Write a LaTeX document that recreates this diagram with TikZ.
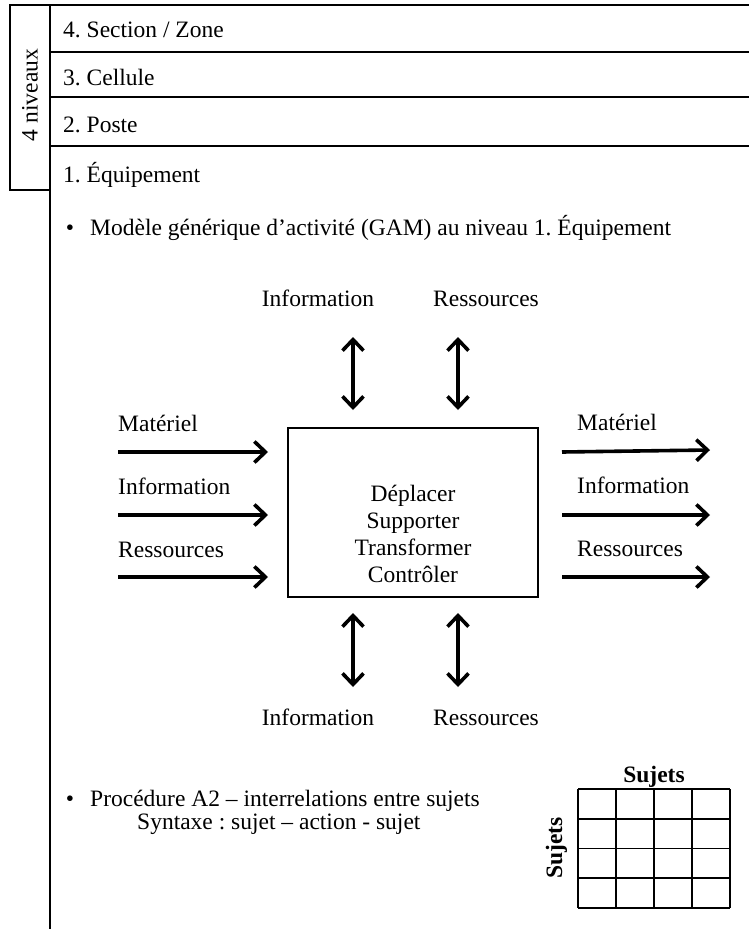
\documentclass[tikz,border=0pt]{standalone}
\usepackage{fontspec}
\setmainfont{Liberation Serif}
\usetikzlibrary{arrows.meta}
\frenchspacing
\begin{document}
\begin{tikzpicture}[x=1pt,y=-1pt,
  txt/.style={inner sep=0pt,font=\fontsize{23.5}{27}\selectfont},
  rule/.style={line width=2pt},
  barb/.tip={Straight Barb[length=11pt,width=21pt,line width=3.6pt]},
  flow/.style={line width=3.6pt,-barb},
  flowboth/.style={line width=3.6pt,barb-barb},
  cell/.style={line width=1.8pt}]
\useasboundingbox (0,0) rectangle (749,929);

% level frame on the left
\draw[rule] (10,5) rectangle (50,190);
\draw[rule] (10,5) -- (749,5);
\draw[line width=2.5pt] (50,5) -- (50,929);
\draw[rule] (50,52) -- (749,52);
\draw[rule] (50,97) -- (749,97);
\draw[rule] (50,146) -- (749,146);
\node[txt,rotate=90] (niv) at (30,95) {4 niveaux};

\node[txt,anchor=base west] (l4) at (63,37) {4. Section / Zone};
\node[txt,anchor=base west] (l3) at (63,85) {3. Cellule};
\node[txt,anchor=base west] (l2) at (63,132) {2. Poste};
\node[txt,anchor=base west] (l1) at (63,182) {1. Équipement};

% generic activity model
\node[txt,anchor=base] (b1) at (70,235) {•};
\node[txt,anchor=base west] (gam) at (90,235) {Modèle générique d’activité (GAM) au niveau 1. Équipement};

\node[draw,line width=1.6pt,minimum width=250pt,minimum height=169pt,inner sep=0pt] (box) at (413,512.5) {};
\node[txt,anchor=base] (v1) at (413,501) {Déplacer};
\node[txt,anchor=base] (v2) at (413,528) {Supporter};
\node[txt,anchor=base] (v3) at (413,555) {Transformer};
\node[txt,anchor=base] (v4) at (413,582) {Contrôler};

% top exchanges
\node[txt,anchor=base] (tinfo) at (318,306) {Information};
\node[txt,anchor=base] (tres) at (486,306) {Ressources};
\coordinate (ti1) at (353,337); \coordinate (ti2) at (353,410);
\coordinate (tr1) at (458,337); \coordinate (tr2) at (458,410);
\draw[flowboth] (ti1) -- (ti2);
\draw[flowboth] (tr1) -- (tr2);

% inputs
\node[txt,anchor=base west] (im) at (118,431) {Matériel};
\node[txt,anchor=base west] (ii) at (118,494) {Information};
\node[txt,anchor=base west] (ir) at (118,557) {Ressources};
\coordinate (im1) at (118,452); \coordinate (im2) at (268,452);
\coordinate (ii1) at (118,515); \coordinate (ii2) at (268,515);
\coordinate (ir1) at (118,577); \coordinate (ir2) at (268,577);
\draw[flow] (im1) -- (im2);
\draw[flow] (ii1) -- (ii2);
\draw[flow] (ir1) -- (ir2);

% outputs
\node[txt,anchor=base west] (om) at (577,430) {Matériel};
\node[txt,anchor=base west] (oi) at (577,493) {Information};
\node[txt,anchor=base west] (or) at (577,556) {Ressources};
\coordinate (om1) at (562,452); \coordinate (om2) at (710,450);
\coordinate (oi1) at (562,515); \coordinate (oi2) at (710,515);
\coordinate (or1) at (562,577); \coordinate (or2) at (710,577);
\draw[flow] (om1) -- (om2);
\draw[flow] (oi1) -- (oi2);
\draw[flow] (or1) -- (or2);

% bottom exchanges
\coordinate (bi1) at (353,613); \coordinate (bi2) at (353,687);
\coordinate (br1) at (458,613); \coordinate (br2) at (458,687);
\draw[flowboth] (bi1) -- (bi2);
\draw[flowboth] (br1) -- (br2);
\node[txt,anchor=base] (binfo) at (318,725) {Information};
\node[txt,anchor=base] (bres) at (486,725) {Ressources};

% procedure A2
\node[txt,anchor=base] (b2) at (70,806) {•};
\node[txt,anchor=base west] (proc) at (90,806) {Procédure A2 – interrelations entre sujets};
\node[txt,anchor=base west] (synt) at (137,829) {Syntaxe : sujet – action - sujet};

% subject matrix
\foreach \i in {0,...,4} {
  \draw[cell] (578+38*\i,789) -- (578+38*\i,908);
  \draw[cell] (578,789+29.75*\i) -- (730,789+29.75*\i);
}
\node[txt,font=\fontsize{23.5}{27}\selectfont\bfseries,anchor=base] (sh) at (654,782) {Sujets};
\node[txt,font=\fontsize{23.5}{27}\selectfont\bfseries,rotate=90,anchor=base] (sv) at (562,848) {Sujets};
\end{tikzpicture}
\end{document}
